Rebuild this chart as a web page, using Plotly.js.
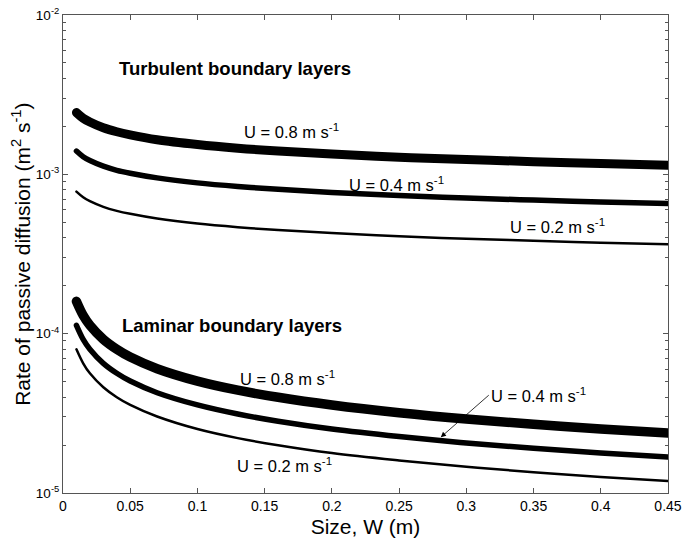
<!DOCTYPE html>
<html>
<head>
<meta charset="utf-8">
<script src="https://cdn.plot.ly/plotly-3.0.1.min.js"></script>
<style>
html,body{margin:0;padding:0;background:#fff}
#chart{width:682px;height:543px}
path.js-line{stroke-linecap:round !important}
</style>
</head>
<body>
<div id="chart"></div>
<script>
// Size W (m)
const sizeW = [0.01, 0.015, 0.02, 0.03, 0.04, 0.05, 0.07, 0.1, 0.13, 0.16, 0.2, 0.25, 0.3, 0.35, 0.4, 0.45];
// Turbulent boundary layers (m2 s-1)
const turb08 = [2.44e-3, 2.25e-3, 2.13e-3, 1.96e-3, 1.85e-3, 1.77e-3, 1.65e-3, 1.54e-3, 1.46e-3, 1.40e-3, 1.34e-3, 1.28e-3, 1.24e-3, 1.20e-3, 1.17e-3, 1.14e-3];
const turb04 = [1.40e-3, 1.29e-3, 1.22e-3, 1.125e-3, 1.06e-3, 1.016e-3, 9.5e-4, 8.84e-4, 8.39e-4, 8.05e-4, 7.70e-4, 7.37e-4, 7.10e-4, 6.89e-4, 6.70e-4, 6.55e-4];
const turb02 = [7.79e-4, 7.18e-4, 6.78e-4, 6.25e-4, 5.90e-4, 5.65e-4, 5.28e-4, 4.91e-4, 4.66e-4, 4.47e-4, 4.28e-4, 4.09e-4, 3.94e-4, 3.83e-4, 3.72e-4, 3.64e-4];
// Laminar boundary layers (m2 s-1)
const lam08 = [1.595e-4, 1.302e-4, 1.128e-4, 9.21e-5, 7.98e-5, 7.13e-5, 6.03e-5, 5.04e-5, 4.42e-5, 3.99e-5, 3.57e-5, 3.19e-5, 2.91e-5, 2.70e-5, 2.52e-5, 2.38e-5];
const lam04 = [1.128e-4, 9.21e-5, 7.98e-5, 6.51e-5, 5.64e-5, 5.04e-5, 4.26e-5, 3.57e-5, 3.13e-5, 2.82e-5, 2.52e-5, 2.26e-5, 2.06e-5, 1.91e-5, 1.78e-5, 1.68e-5];
const lam02 = [7.98e-5, 6.52e-5, 5.64e-5, 4.61e-5, 3.99e-5, 3.57e-5, 3.02e-5, 2.52e-5, 2.21e-5, 1.995e-5, 1.78e-5, 1.60e-5, 1.46e-5, 1.35e-5, 1.26e-5, 1.19e-5];

const xTicks = [0, 0.05, 0.1, 0.15, 0.2, 0.25, 0.3, 0.35, 0.4, 0.45];
const xTickText = ['0', '0.05', '0.1', '0.15', '0.2', '0.25', '0.3', '0.35', '0.4', '0.45'];
const yTicks = [1e-5, 1e-4, 1e-3, 1e-2];
const yTickText = ['10<sup>-5</sup>', '10<sup>-4</sup>', '10<sup>-3</sup>', '10<sup>-2</sup>'];

function line(y, w) {
  return {x: sizeW, y: y, mode: 'lines', type: 'scatter', line: {color: '#000', width: w, shape: 'spline', smoothing: 1}, hoverinfo: 'none', showlegend: false};
}
const traces = [line(turb08, 9), line(turb04, 5.5), line(turb02, 2.5), line(lam08, 9.5), line(lam04, 5.5), line(lam02, 2.5)];

const F = 'Arial, Liberation Sans, sans-serif';
const LS = 16.5;
function lab(x, y, text, opts) {
  return Object.assign({x: x, y: Math.log10(y), xref: 'x', yref: 'y', text: text, showarrow: false, font: {family: F, size: LS, color: '#000'}, xanchor: 'left', yanchor: 'middle'}, opts || {});
}
const bold = {font: {family: F, size: 18.5, color: '#000', weight: 'bold'}};
const ann = [
  lab(0.040, 4.6e-3, 'Turbulent boundary layers', bold),
  lab(0.1334, 1.87e-3, 'U = 0.8 m s<sup>-1</sup>'),
  lab(0.2113, 8.75e-4, 'U = 0.4 m s<sup>-1</sup>'),
  lab(0.3311, 4.75e-4, 'U = 0.2 m s<sup>-1</sup>'),
  lab(0.0426, 1.13e-4, 'Laminar boundary layers', bold),
  lab(0.1303, 5.3e-5, 'U = 0.8 m s<sup>-1</sup>'),
  lab(0.128, 1.50e-5, 'U = 0.2 m s<sup>-1</sup>'),
  {x: 0.281, y: Math.log10(2.24e-5), xref: 'x', yref: 'y', text: 'U = 0.4 m s<sup>-1</sup>', showarrow: true,
   ax: 48, ay: -42, arrowhead: 2, arrowsize: 1.3, arrowwidth: 0.8, arrowcolor: '#000', standoff: 0,
   xanchor: 'left', yanchor: 'middle', font: {family: F, size: LS, color: '#000'}},
  {x: -0.0697, y: 0.5, xref: 'paper', yref: 'paper', text: 'Rate of passive diffusion (m<sup>2</sup> s<sup>-1</sup>)',
   textangle: -90, showarrow: false, xanchor: 'center', yanchor: 'middle', font: {family: F, size: 21, color: '#000'}}
];

const axCol = '#555';
const layout = {
  width: 682, height: 543,
  margin: {l: 63, r: 14, t: 15, b: 50},
  paper_bgcolor: '#fff', plot_bgcolor: '#fff',
  showlegend: false,
  xaxis: {
    range: [0, 0.45001], tickvals: xTicks, ticktext: xTickText, ticklabeloverflow: 'allow',
    ticks: 'inside', ticklen: 5, tickcolor: axCol, mirror: 'ticks',
    showline: true, linecolor: axCol, linewidth: 1, showgrid: false, zeroline: false,
    tickfont: {family: F, size: 14, color: '#000'},
    title: {text: 'Size, W (m)', font: {family: F, size: 21, color: '#000'}, standoff: 6}
  },
  yaxis: {
    type: 'log', range: [-5, -2], tickvals: yTicks, ticktext: yTickText,
    ticks: 'inside', ticklen: 5, tickcolor: axCol, mirror: 'ticks',
    showline: true, linecolor: axCol, linewidth: 1, showgrid: false, zeroline: false,
    tickfont: {family: F, size: 13.5, color: '#000'},
    minor: {ticks: 'inside', ticklen: 3, tickcolor: axCol, dtick: 'D1', showgrid: false}
  },
  annotations: ann
};
Plotly.newPlot('chart', traces, layout, {staticPlot: true, displayModeBar: false});
</script>
</body>
</html>
